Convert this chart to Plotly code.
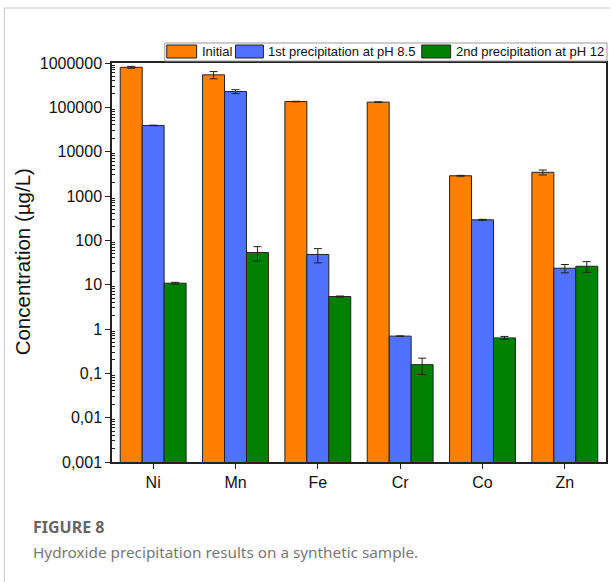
import plotly.graph_objects as go

# Metal concentrations (µg/L) after each treatment step
metals = ["Ni", "Mn", "Fe", "Cr", "Co", "Zn"]
initial = [800000, 540000, 135000, 131000, 2860, 3420]
initial_err = [40000, 100000, 2000, 2000, 60, 440]
ph85 = [39000, 227000, 48, 0.69, 290, 23.5]
ph85_err = [600, 23000, 17, 0.01, 8, 5]
ph12 = [10.8, 53, 5.4, 0.157, 0.63, 26]
ph12_err = [0.5, 19, 0.15, 0.063, 0.05, 7]

series_names = ["Initial", "1st precipitation at pH 8.5", "2nd precipitation at pH 12"]
series_colors = ["#FF8000", "#5070FF", "#008000"]

ytick_vals = [1e-3, 1e-2, 1e-1, 1, 10, 100, 1000, 10000, 100000, 1000000]
ytick_text = ["0,001", "0,01", "0,1", "1", "10", "100", "1000", "10000", "100000", "1000000"]
minor_vals = [k * 10.0 ** e for e in range(-3, 6) for k in range(2, 10)]

W, H = 612, 582
L, R, T, B = 112, 608, 63, 462


def px(x):
    return (x - L) / (R - L)


def py(y):
    return (B - y) / (B - T)


fig = go.Figure()
for name, vals, errs, color in zip(series_names, [initial, ph85, ph12],
                                   [initial_err, ph85_err, ph12_err], series_colors):
    fig.add_trace(go.Bar(
        x=metals, y=vals, name=name,
        marker=dict(color=color, line=dict(color="#222222", width=1)),
        error_y=dict(type="data", array=errs, visible=True,
                     color="#222222", thickness=1, width=4),
        showlegend=False,
    ))

shapes = [
    # card border
    dict(type="line", xref="paper", yref="paper", x0=px(4), x1=px(W), y0=py(8), y1=py(8),
         line=dict(color="#c8c8c8", width=1)),
    dict(type="line", xref="paper", yref="paper", x0=px(4), x1=px(4), y0=py(8), y1=py(H),
         line=dict(color="#c8c8c8", width=1)),
    # legend frame
    dict(type="rect", xref="paper", yref="paper", x0=px(165), x1=px(609), y0=py(61), y1=py(43),
         line=dict(color="#999999", width=1), fillcolor="white"),
]
annotations = []
legend_items = [(167, 197, 200), (236, 264, 267), (423, 452, 455)]
for (sx0, sx1, tx), name, color in zip(legend_items, series_names, series_colors):
    shapes.append(dict(type="rect", xref="paper", yref="paper", x0=px(sx0), x1=px(sx1),
                       y0=py(58), y1=py(45), fillcolor=color,
                       line=dict(color="#222222", width=1)))
    annotations.append(dict(x=px(tx), y=py(52), xref="paper", yref="paper", text=name,
                            showarrow=False, xanchor="left", yanchor="middle",
                            font=dict(family="Liberation Sans, Arial", size=13, color="#111111")))

annotations += [
    dict(x=px(22), y=py(262), xref="paper", yref="paper", text="Concentration (µg/L)",
         textangle=-90, showarrow=False, xanchor="center", yanchor="middle",
         font=dict(family="Liberation Sans, Arial", size=20.5, color="#111111")),
    dict(x=px(31), y=py(527), xref="paper", yref="paper", text="<b>FIGURE 8</b>",
         showarrow=False, xanchor="left", yanchor="middle",
         font=dict(family="Noto Sans", size=16, color="#666666")),
    dict(x=px(31), y=py(552), xref="paper", yref="paper",
         text="Hydroxide precipitation results on a synthetic sample.",
         showarrow=False, xanchor="left", yanchor="middle",
         font=dict(family="Noto Sans", size=15.3, color="#777777")),
]

fig.update_layout(
    width=W, height=H,
    margin=dict(l=L, r=W - R, t=T, b=H - B, pad=0),
    paper_bgcolor="white", plot_bgcolor="white",
    barmode="group", bargap=0.2, bargroupgap=0,
    shapes=shapes, annotations=annotations,
    font=dict(family="Liberation Sans, Arial", color="#111111"),
)
fig.update_xaxes(
    range=[-0.5, 5.5], showline=True, linecolor="#222222", linewidth=1.5, mirror=True,
    ticks="outside", ticklen=5, tickcolor="#222222", tickwidth=1.2,
    tickfont=dict(size=16, color="#111111"), showgrid=False, zeroline=False,
)
fig.update_yaxes(
    type="log", range=[-3, 6], tickmode="array", tickvals=ytick_vals, ticktext=ytick_text,
    showline=True, linecolor="#222222", linewidth=1.5, mirror=True,
    ticks="outside", ticklen=5, tickcolor="#222222", tickwidth=1.2,
    tickfont=dict(size=16, color="#111111"), showgrid=False, zeroline=False,
    minor=dict(tickmode="array", tickvals=minor_vals, ticks="inside", ticklen=3,
               tickcolor="#222222", tickwidth=1, showgrid=False),
)

fig.write_html("out.html")
